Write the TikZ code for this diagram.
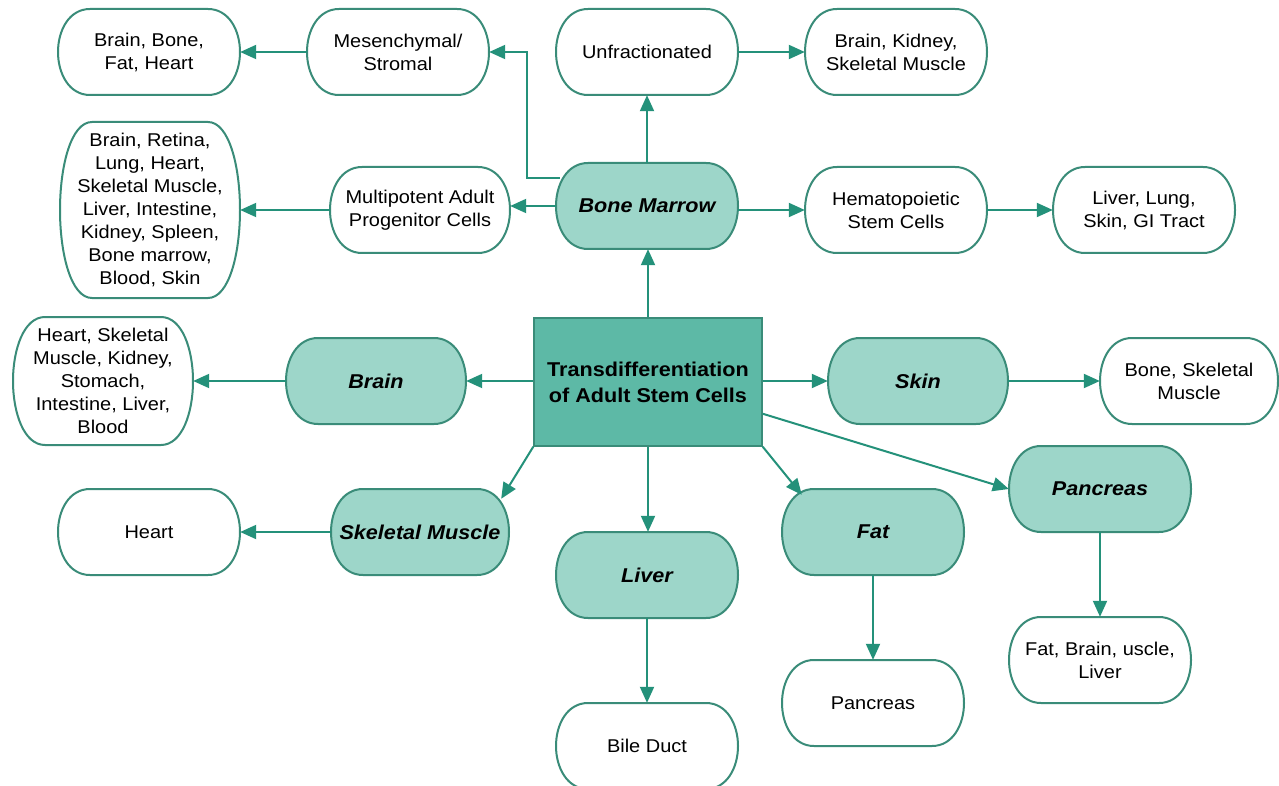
\documentclass[tikz,border=0pt]{standalone}
\usepackage{fontspec}
\setmainfont{Liberation Sans}[FakeStretch=1.08]
\usetikzlibrary{arrows.meta,calc}
\definecolor{tealline}{HTML}{3A8C79}
\definecolor{tealarrow}{HTML}{24917A}
\definecolor{lightfill}{HTML}{9DD6C9}
\definecolor{darkfill}{HTML}{5DB9A6}
\tikzset{
  bubline/.style={draw=tealline, line width=2pt},
  whitebub/.style={fill=white},
  greenbub/.style={fill=lightfill},
  txt/.style={inner sep=0pt, align=center, font=\fontsize{18.5}{23}\selectfont},
  txtb/.style={inner sep=0pt, align=center, font=\fontsize{20}{24}\selectfont\bfseries\itshape},
  central/.style={draw=tealline, fill=darkfill, line width=1.5pt, inner sep=0pt, align=center,
     font=\fontsize{20}{26}\selectfont\bfseries},
  arr/.style={-{Triangle[length=16pt,width=14pt]}, draw=tealarrow, line width=2pt}
}
% #1 name, #2 centre, #3 half width, #4 half height, #5 fill style, #6 text style, #7 text
\newcommand\Bub[7]{%
  \begin{scope}[shift={(#2)}]
  \path[bubline,#5] (-#3+32,-#4) -- (#3-32,-#4)
     .. controls (#3-11,-#4) and (#3,-0.5*#4) .. (#3,0)
     .. controls (#3,0.5*#4) and (#3-11,#4) .. (#3-32,#4)
     -- (-#3+32,#4)
     .. controls (-#3+11,#4) and (-#3,0.5*#4) .. (-#3,0)
     .. controls (-#3,-0.5*#4) and (-#3+11,-#4) .. cycle;
  \end{scope}
  \node[#6,minimum width=2*#3,minimum height=2*#4] (#1) at (#2) {#7};}
\begin{document}
\begin{tikzpicture}[x=1pt,y=-1pt]
\useasboundingbox (0,0) rectangle (1279,786);
\fill[white] (0,0) rectangle (1279,786);

\Bub{bbfh}{149,52}{91}{43}{whitebub}{txt}{Brain, Bone,\\Fat, Heart}
\Bub{mes}{398,52}{91}{43}{whitebub}{txt}{Mesenchymal/\\Stromal}
\Bub{unf}{647,52}{91}{43}{whitebub}{txt}{Unfractionated}
\Bub{bks}{896,52}{91}{43}{whitebub}{txt}{Brain, Kidney,\\Skeletal Muscle}
\Bub{brl}{150,210}{90}{88}{whitebub}{txt}{Brain, Retina,\\Lung, Heart,\\Skeletal Muscle,\\Liver, Intestine,\\Kidney, Spleen,\\Bone marrow,\\Blood, Skin}
\Bub{map}{420,210}{90}{43}{whitebub}{txt}{Multipotent Adult\\Progenitor Cells}
\Bub{bm}{647,206}{91}{43}{greenbub}{txtb}{Bone Marrow}
\Bub{hsc}{896,210}{91}{43}{whitebub}{txt}{Hematopoietic\\Stem Cells}
\Bub{lls}{1144,210}{91}{43}{whitebub}{txt}{Liver, Lung,\\Skin, GI Tract}
\Bub{hsk}{103,381}{90}{64}{whitebub}{txt}{Heart, Skeletal\\Muscle, Kidney,\\Stomach,\\Intestine, Liver,\\Blood}
\Bub{brn}{376,381}{90}{43}{greenbub}{txtb}{Brain}
\node[central, minimum width=228, minimum height=128] (T) at (648,382) {Transdifferentiation\\of Adult Stem Cells};
\Bub{skn}{918,381}{90}{43}{greenbub}{txtb}{Skin}
\Bub{bsm}{1189,381}{89}{43}{whitebub}{txt}{Bone, Skeletal\\Muscle}
\Bub{pan}{1100,489}{91}{43}{greenbub}{txtb}{Pancreas}
\Bub{sm}{420,532}{89}{43}{greenbub}{txtb}{Skeletal Muscle}
\Bub{hrt}{149,532}{91}{43}{whitebub}{txt}{Heart}
\Bub{liv}{647,575}{91}{43}{greenbub}{txtb}{Liver}
\Bub{fat}{873,532}{91}{43}{greenbub}{txtb}{Fat}
\Bub{bd}{647,746}{91}{43}{whitebub}{txt}{Bile Duct}
\Bub{pw}{873,703}{91}{43}{whitebub}{txt}{Pancreas}
\Bub{fbl}{1100,660}{91}{43}{whitebub}{txt}{Fat, Brain, uscle,\\Liver}

\draw[arr] (mes) -- (bbfh);
\draw[arr] ($(bm.west)+(4,-28)$) -- ++(-33,0) |- (mes.east);
\draw[arr] (bm.north) -- (bm.north |- unf.south);
\draw[arr] (unf) -- (bks);
\draw[arr] (bm.west) -- (map.east |- bm.west);
\draw[arr] (map) -- (brl);
\draw[arr] (bm.east |- hsc) -- (hsc.west);
\draw[arr] (hsc) -- (lls);
\draw[arr] (T.north) -- (T.north |- bm.south);
\draw[arr] (T.west |- brn) -- (brn.east);
\draw[arr] (brn) -- (hsk);
\draw[arr] (T.east |- skn) -- (skn.west);
\draw[arr] (skn) -- (bsm);
\draw[arr] ($(T.south east)+(0,-33)$) -- (pan.west);
\draw[arr] (T.south east) -- ($(fat.north west)+(20,6)$);
\draw[arr] (T.south west) -- ($(sm.north east)+(-8,10)$);
\draw[arr] (T.south) -- (T.south |- liv.north);
\draw[arr] (sm) -- (hrt);
\draw[arr] (liv) -- (bd);
\draw[arr] (fat) -- (pw);
\draw[arr] (pan) -- (fbl);
\end{tikzpicture}
\end{document}
